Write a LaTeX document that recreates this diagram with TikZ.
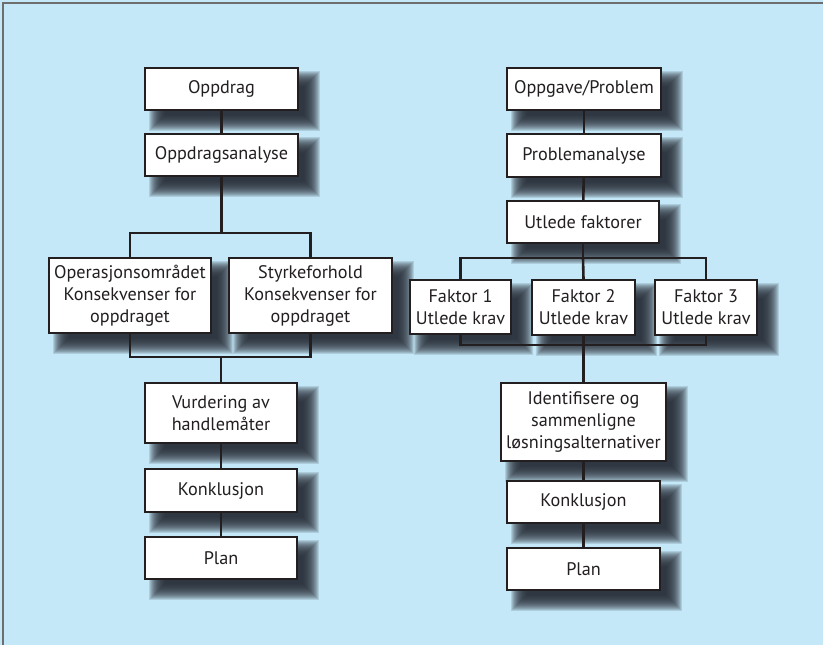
\documentclass[tikz,border=0pt]{standalone}
\usepackage{fontspec}
\setmainfont{PT Sans}
\definecolor{sky}{RGB}{197,232,248}
\definecolor{ink}{RGB}{35,31,32}
\definecolor{frame}{RGB}{110,110,110}
\definecolor{shade}{RGB}{38,43,54}
\pgfdeclarelayer{background}
\pgfsetlayers{background,main}
\tikzset{
  stepbox/.style={draw=ink, line width=2pt, fill=white, text=ink,
    align=center, inner sep=0pt, font=\fontsize{18.2}{22}\selectfont},
  link/.style={draw=ink, line width=2.6pt},
  softlayer/.style={fill=shade, fill opacity=0.14}
}
\begin{document}
\begin{tikzpicture}[x=1pt,y=-1pt]
  \useasboundingbox (0,0) rectangle (823,645);
  \begin{pgfonlayer}{background}
    \fill[sky] (0,0) rectangle (823,645);
    \draw[frame, line width=1.6pt] (3,645) -- (3,3) -- (823,3);
  \end{pgfonlayer}

  % left chain
  \node[stepbox, minimum width=153pt, minimum height=42pt] (oppdrag) at (221.5,89) {Oppdrag};
  \node[stepbox, minimum width=153pt, minimum height=42pt] (oanalyse) at (221.5,155) {Oppdragsanalyse};
  \node[stepbox, minimum width=162pt, minimum height=75pt] (omr) at (130,295.5) {Operasjonsområdet\\Konsekvenser for\\oppdraget};
  \node[stepbox, minimum width=163pt, minimum height=75pt] (styrke) at (310.5,295.5) {Styrkeforhold\\Konsekvenser for\\oppdraget};
  \node[stepbox, minimum width=152pt, minimum height=60pt] (vurd) at (221,413) {Vurdering av\\handlemåter};
  \node[stepbox, minimum width=152pt, minimum height=43pt] (konklA) at (221,490.5) {Konklusjon};
  \node[stepbox, minimum width=152pt, minimum height=42pt] (planA) at (221,558) {Plan};

  % right chain
  \node[stepbox, minimum width=154pt, minimum height=42pt] (oppgave) at (584,89) {Oppgave/Problem};
  \node[stepbox, minimum width=154pt, minimum height=43pt] (panalyse) at (584,155.5) {Problemanalyse};
  \node[stepbox, minimum width=152pt, minimum height=42pt] (utlede) at (583,222) {Utlede faktorer};
  \node[stepbox, minimum width=101pt, minimum height=54pt] (fak1) at (460.5,307) {Faktor 1\\Utlede krav};
  \node[stepbox, minimum width=103pt, minimum height=55pt] (fak2) at (583.5,307.5) {Faktor 2\\Utlede krav};
  \node[stepbox, minimum width=102pt, minimum height=55pt] (fak3) at (706,307.5) {Faktor 3\\Utlede krav};
  \node[stepbox, minimum width=165pt, minimum height=78pt] (ident) at (583.5,422) {Identifisere og\\sammenligne\\løsningsalternativer};
  \node[stepbox, minimum width=153pt, minimum height=42pt] (konklB) at (583.5,502) {Konklusjon};
  \node[stepbox, minimum width=153pt, minimum height=42pt] (planB) at (583.5,569) {Plan};

  % soft drop shadows: stacked translucent rectangles behind every box
  \begin{pgfonlayer}{background}
    \foreach \n in {oppdrag,oanalyse,omr,styrke,vurd,konklA,planA,
                    oppgave,panalyse,utlede,fak1,fak2,fak3,ident,konklB,planB} {
      \foreach \r in {-8,-7,...,8} {
        \fill[softlayer] ([shift={(13-\r,12-\r)}]\n.north west)
                   rectangle ([shift={(13+\r,12+\r)}]\n.south east);
      }
    }
  \end{pgfonlayer}

  % junction points of the branch bars
  \coordinate (splitA) at (221.5,233);
  \coordinate (joinA) at (221,357);
  \coordinate (splitB) at (583,258);
  \coordinate (joinB) at (583.5,345);

  % left connectors
  \draw[link] (oppdrag) -- (oanalyse);
  \draw[link] (oanalyse) -- (splitA);
  \draw[link] (omr.north) |- (splitA) -| (styrke.north);
  \draw[link] (omr.south) |- (joinA) -| (styrke.south);
  \draw[link] (joinA) -- (vurd.north);
  \draw[link] (vurd) -- (konklA);
  \draw[link] (konklA) -- (planA);

  % right connectors
  \draw[link] (oppgave) -- (panalyse);
  \draw[link] (panalyse) -- (utlede);
  \draw[link] (utlede) -- (splitB);
  \draw[link] (fak1.north) |- (splitB) -| (fak3.north);
  \draw[link] (splitB) -- (fak2.north);
  \draw[link] (fak1.south) |- (joinB) -| (fak3.south);
  \draw[link] (fak2.south) -- (ident.north);
  \draw[link] (ident) -- (konklB);
  \draw[link] (konklB) -- (planB);
\end{tikzpicture}
\end{document}
